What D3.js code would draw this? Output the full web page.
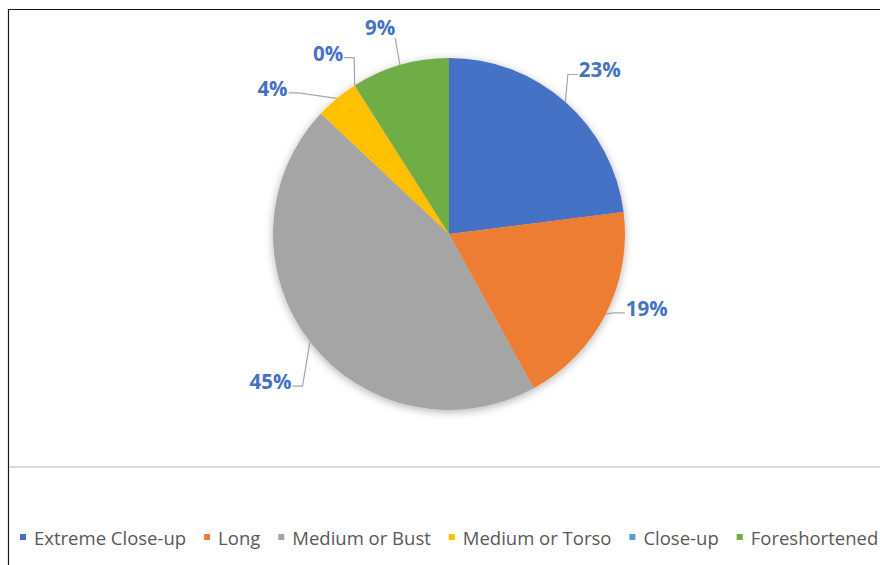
<!DOCTYPE html>
<html>
<head>
<meta charset="utf-8">
<script src="https://cdn.jsdelivr.net/npm/d3@7"></script>
<style>
  html, body { margin: 0; padding: 0; background: #ffffff; }
  svg { display: block; }
</style>
</head>
<body>
<svg id="chart" width="880" height="565"></svg>
<script>
// Shot types and their share of the sample (percent)
const categories = ["Extreme Close-up", "Long", "Medium or Bust", "Medium or Torso", "Close-up", "Foreshortened"];
const shares = [23, 19, 45, 4, 0, 9];
const colors = ["#4472C4", "#ED7D31", "#A5A5A5", "#FFC000", "#5B9BD5", "#70AD47"];

// Label placement tweaks (px) applied after positioning on the outer ring
const labelNudge = [[4, 2], [0, -27], [-3, 11], [-35, 25], [-2, 6], [-7, 6]];

const W = 880, H = 565;
const cx = 449, cy = 234, R = 176, labelR = 222;

const svg = d3.select("#chart");

// Soft outer shadow behind the pie
const defs = svg.append("defs");
const f = defs.append("filter").attr("id", "pieShadow")
  .attr("x", "-20%").attr("y", "-20%").attr("width", "140%").attr("height", "140%");
f.append("feDropShadow").attr("dx", 0).attr("dy", 2).attr("stdDeviation", 4)
  .attr("flood-color", "#000").attr("flood-opacity", 0.3);

// Chart frame
svg.append("line").attr("x1", 8).attr("x2", W).attr("y1", 9.5).attr("y2", 9.5)
  .attr("stroke", "#1a1a1a").attr("stroke-width", 1.2);
svg.append("line").attr("x1", 8.5).attr("x2", 8.5).attr("y1", 9).attr("y2", H)
  .attr("stroke", "#1a1a1a").attr("stroke-width", 1.2);
svg.append("line").attr("x1", 9).attr("x2", W).attr("y1", 467).attr("y2", 467)
  .attr("stroke", "#d9d9d9").attr("stroke-width", 2);

const data = categories.map((c, i) => ({ name: c, value: shares[i], color: colors[i], i }));

const pie = d3.pie().value(d => d.value).sort(null);
const arcs = pie(data);
const arc = d3.arc().innerRadius(0).outerRadius(R);

const g = svg.append("g").attr("transform", `translate(${cx},${cy})`);
g.append("g").attr("filter", "url(#pieShadow)")
  .selectAll("path").data(arcs).join("path")
  .attr("d", arc)
  .attr("fill", d => d.data.color);

// Data labels with leader lines
const labelFont = "bold 20.5px 'Open Sans', 'Liberation Sans', sans-serif";
const measure = document.createElement("canvas").getContext("2d");
measure.font = labelFont;

const labelsG = svg.append("g");
arcs.forEach((a, k) => {
  const mid = (a.startAngle + a.endAngle) / 2;
  const ex = cx + R * Math.sin(mid), ey = cy - R * Math.cos(mid);
  const lx = cx + labelR * Math.sin(mid) + labelNudge[k][0];
  const ly = cy - labelR * Math.cos(mid) + labelNudge[k][1];
  const txt = d3.format(".0%")(a.data.value / 100);
  const w = measure.measureText(txt).width;
  const half = w / 2;

  let pts;
  const dx = lx - ex;
  if (Math.abs(dx) > half + 8) {
    const side = dx > 0 ? -1 : 1;
    const ax = lx + side * (half + 1), ay = ly + 5;
    pts = [[ex, ey], [ax + side * 10, ay], [ax, ay]];
  } else {
    const ax = Math.max(lx - half, Math.min(lx + half, ex)), ay = ly + 11;
    pts = [[ex, ey], [ax, ay]];
  }
  labelsG.append("path")
    .attr("d", d3.line()(pts))
    .attr("fill", "none").attr("stroke", "#a6a6a6").attr("stroke-width", 1.2);

  labelsG.append("text")
    .attr("x", lx).attr("y", ly)
    .attr("text-anchor", "middle").attr("dominant-baseline", "central")
    .style("font", labelFont).attr("fill", "#4472C4")
    .text(txt);
});

// Legend flowing left to right along the bottom
const legend = svg.append("g");
let x = 20;
const ly = 537;
data.forEach(d => {
  legend.append("rect").attr("x", x).attr("y", ly - 3).attr("width", 6).attr("height", 6)
    .attr("fill", d.color);
  const t = legend.append("text").attr("x", x + 14).attr("y", ly)
    .attr("dominant-baseline", "central")
    .style("font", "18.5px 'Open Sans', sans-serif").attr("fill", "#595959")
    .text(d.name);
  x += 14 + t.node().getComputedTextLength() + 18;
});
</script>
</body>
</html>
